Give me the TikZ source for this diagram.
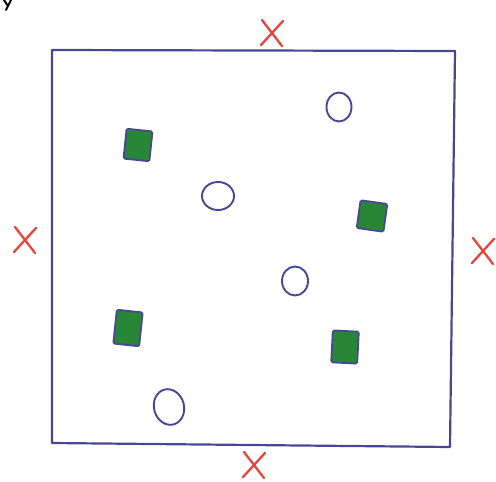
\documentclass[tikz,border=0pt]{standalone}
\usetikzlibrary{shapes.geometric}
\begin{document}
\begin{tikzpicture}[x=1pt,y=-1pt,
  pen/.style={draw=penblue,line width=2.2pt,line cap=round,line join=round},
  cross/.style={draw=crossred,line width=2.3pt,line cap=round},
  box/.style={draw=penblue,line width=1.8pt,fill=leafgreen,minimum width=26pt,minimum height=30pt,inner sep=0pt,rounded corners=1.5pt},
  ring/.style={ellipse,draw=penblue,line width=1.9pt,inner sep=0pt}]
\definecolor{penblue}{RGB}{72,70,150}
\definecolor{crossred}{RGB}{228,70,62}
\definecolor{leafgreen}{RGB}{40,135,55}
\useasboundingbox (0,0) rectangle (496,482);
% fragment of letter in the corner
\draw[line width=2pt,black,line cap=round] (4,0) -- (8,6) (11,0) -- (6,10);
% frame
\coordinate (tl) at (52,50);
\coordinate (tr) at (455,51);
\coordinate (br) at (450,447);
\coordinate (bl) at (52,443);
\draw[pen] (tl) -- (tr) -- (br) -- (bl) -- cycle;
% red crosses
\coordinate (xt) at (272,33);
\coordinate (xl) at (25,240);
\coordinate (xr) at (483,251);
\coordinate (xb) at (254,465);
\foreach \c in {xt,xl,xr,xb}{
  \draw[cross] ([shift={(-10,-13)}]\c) -- ([shift={(10,13)}]\c);
  \draw[cross] ([shift={(11,-12)}]\c) -- ([shift={(-11,12)}]\c);
}
% green boxes
\node[box,rotate=-6] (g1) at (138,145) {};
\node[box,rotate=-8,minimum width=27pt,minimum height=28pt] (g2) at (372,216) {};
\node[box,rotate=-6,minimum height=34pt] (g3) at (128,328) {};
\node[box,rotate=-3,minimum height=32pt] (g4) at (345,347) {};
% circles
\node[ring,minimum width=25pt,minimum height=29pt] (c1) at (339,107) {};
\node[ring,minimum width=32pt,minimum height=28pt] (c2) at (218,196) {};
\node[ring,minimum width=26pt,minimum height=29pt] (c3) at (295,281) {};
\node[ring,minimum width=30pt,minimum height=36pt,rotate=15] (c4) at (169,407) {};
\end{tikzpicture}
\end{document}
